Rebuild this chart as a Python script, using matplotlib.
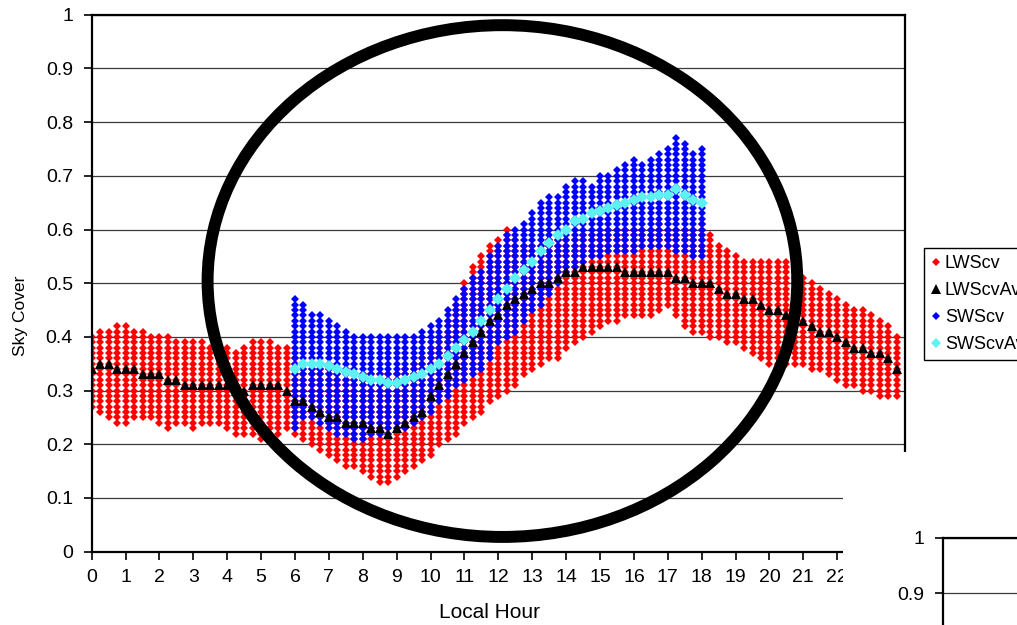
import numpy as np
import matplotlib.pyplot as plt
from matplotlib.patches import Ellipse, Rectangle

plt.rcParams['font.family'] = ['Liberation Sans', 'DejaVu Sans']

# quarter-hour local times
hours = np.arange(96) / 4.0          # 0 .. 23.75
sw_hours = hours[24:73]              # 6 .. 18

# LWScv cloud: lower / upper edge at each quarter hour
lws_lo = [0.27, 0.26, 0.25, 0.24, 0.24, 0.25, 0.25, 0.25,
          0.24, 0.23, 0.24, 0.24, 0.23, 0.24, 0.24, 0.24,
          0.23, 0.22, 0.22, 0.22, 0.21, 0.22, 0.22, 0.23,
          0.22, 0.21, 0.20, 0.19, 0.18, 0.17, 0.16, 0.16,
          0.15, 0.14, 0.13, 0.13, 0.14, 0.15, 0.16, 0.17,
          0.18, 0.20, 0.21, 0.22, 0.24, 0.25, 0.26, 0.28,
          0.29, 0.30, 0.31, 0.33, 0.34, 0.35, 0.36, 0.36,
          0.38, 0.39, 0.40, 0.41, 0.42, 0.43, 0.43, 0.44,
          0.44, 0.44, 0.44, 0.45, 0.46, 0.44, 0.42, 0.41,
          0.41, 0.40, 0.40, 0.39, 0.39, 0.38, 0.37, 0.36,
          0.35, 0.35, 0.35, 0.35, 0.35, 0.34, 0.34, 0.33,
          0.32, 0.31, 0.31, 0.30, 0.30, 0.29, 0.29, 0.29]
lws_hi = [0.40, 0.41, 0.41, 0.42, 0.42, 0.41, 0.41, 0.40,
          0.40, 0.40, 0.39, 0.39, 0.39, 0.39, 0.38, 0.38,
          0.38, 0.37, 0.38, 0.39, 0.39, 0.39, 0.38, 0.38,
          0.36, 0.35, 0.35, 0.35, 0.34, 0.33, 0.33, 0.33,
          0.33, 0.33, 0.33, 0.33, 0.33, 0.34, 0.35, 0.36,
          0.38, 0.40, 0.43, 0.46, 0.50, 0.53, 0.55, 0.57,
          0.58, 0.60, 0.58, 0.57, 0.57, 0.57, 0.58, 0.58,
          0.58, 0.58, 0.59, 0.59, 0.59, 0.60, 0.60, 0.60,
          0.60, 0.60, 0.60, 0.61, 0.60, 0.60, 0.60, 0.60,
          0.61, 0.59, 0.57, 0.56, 0.55, 0.54, 0.54, 0.54,
          0.54, 0.54, 0.54, 0.53, 0.51, 0.50, 0.49, 0.48,
          0.47, 0.46, 0.45, 0.45, 0.44, 0.43, 0.42, 0.40]

# LWScvAv
lws_av = [0.34, 0.35, 0.35, 0.34, 0.34, 0.34, 0.33, 0.33,
          0.33, 0.32, 0.32, 0.31, 0.31, 0.31, 0.31, 0.31,
          0.31, 0.30, 0.30, 0.31, 0.31, 0.31, 0.31, 0.30,
          0.28, 0.28, 0.27, 0.26, 0.25, 0.25, 0.24, 0.24,
          0.24, 0.23, 0.23, 0.22, 0.23, 0.24, 0.25, 0.26,
          0.29, 0.31, 0.33, 0.35, 0.37, 0.39, 0.41, 0.43,
          0.44, 0.46, 0.47, 0.48, 0.49, 0.50, 0.50, 0.51,
          0.52, 0.52, 0.53, 0.53, 0.53, 0.53, 0.53, 0.52,
          0.52, 0.52, 0.52, 0.52, 0.52, 0.51, 0.51, 0.50,
          0.50, 0.50, 0.49, 0.48, 0.48, 0.47, 0.47, 0.46,
          0.45, 0.45, 0.44, 0.43, 0.43, 0.42, 0.41, 0.41,
          0.40, 0.39, 0.38, 0.38, 0.37, 0.37, 0.36, 0.34]

# SWScv cloud (6h - 18h)
sws_lo = [0.23, 0.25, 0.25, 0.24, 0.23, 0.22, 0.22, 0.21,
          0.21, 0.22, 0.22, 0.22, 0.23, 0.23, 0.24, 0.25,
          0.26, 0.28, 0.29, 0.31, 0.32, 0.33, 0.34, 0.36,
          0.39, 0.40, 0.41, 0.43, 0.45, 0.46, 0.48, 0.50,
          0.52, 0.53, 0.54, 0.55, 0.55, 0.56, 0.56, 0.56,
          0.56, 0.57, 0.57, 0.57, 0.57, 0.56, 0.56, 0.55,
          0.55]
sws_hi = [0.47, 0.46, 0.44, 0.44, 0.43, 0.42, 0.41, 0.40,
          0.40, 0.40, 0.40, 0.40, 0.40, 0.40, 0.40, 0.41,
          0.42, 0.43, 0.45, 0.47, 0.49, 0.51, 0.52, 0.55,
          0.57, 0.59, 0.60, 0.61, 0.63, 0.65, 0.66, 0.66,
          0.68, 0.69, 0.69, 0.68, 0.70, 0.70, 0.71, 0.72,
          0.73, 0.72, 0.73, 0.74, 0.75, 0.77, 0.76, 0.74,
          0.75]

# SWScvAv
sws_av = [0.34, 0.35, 0.35, 0.35, 0.345, 0.34, 0.335, 0.33,
          0.325, 0.32, 0.32, 0.315, 0.315, 0.32, 0.325, 0.33,
          0.34, 0.35, 0.365, 0.38, 0.395, 0.41, 0.43, 0.45,
          0.47, 0.49, 0.51, 0.525, 0.54, 0.56, 0.575, 0.59,
          0.60, 0.615, 0.62, 0.63, 0.635, 0.64, 0.645, 0.65,
          0.655, 0.66, 0.66, 0.665, 0.665, 0.675, 0.665, 0.655,
          0.65]


def cloud(xs, lo, hi):
    px, py = [], []
    for x, a, b in zip(xs, lo, hi):
        vals = np.arange(round(a * 100), round(b * 100) + 1) / 100.0
        px += [x] * len(vals)
        py += list(vals)
    return px, py


W, H = 1017, 625
fig = plt.figure(figsize=(W / 100, H / 100), dpi=100)
ax = fig.add_axes([91.7 / W, 1 - 551.7 / H, (905 - 91.7) / W, (551.7 - 14.7) / H])

lx, ly = cloud(hours, lws_lo, lws_hi)
sx, sy = cloud(sw_hours, sws_lo, sws_hi)
l1, = ax.plot(lx, ly, 'D', color='#ff0000', ms=4.0, mew=0, ls='none', label='LWScv', zorder=2)
l3, = ax.plot(sx, sy, 'D', color='#0000ff', ms=4.0, mew=0, ls='none', label='SWScv', zorder=3)
l2, = ax.plot(hours, lws_av, '^', color='black', ms=7.5, mew=0, ls='none', label='LWScvAv', zorder=4)
l4, = ax.plot(sw_hours, sws_av, 'D', color='#5cf2f2', ms=6, mew=0, ls='none', label='SWScvAv', zorder=5)

ax.set_xlim(0, 24)
ax.set_ylim(0, 1)
ax.set_xticks(range(0, 25))
ax.set_xticklabels([str(h) for h in range(0, 25)])
ax.set_yticks(np.arange(0, 11) / 10)
ax.set_yticklabels(['0'] + ['0.%d' % i for i in range(1, 10)] + ['1'])
ax.tick_params(axis='both', labelsize=14, direction='out', length=5.5, width=1.2, color='black')
ax.tick_params(axis='y', pad=8)
ax.tick_params(axis='x', pad=7)
ax.grid(axis='y', color='#3a3a3a', lw=0.9)
ax.set_axisbelow(True)
for s in ax.spines.values():
    s.set_color('black')
    s.set_linewidth(1.6)

ax.set_xlabel('Local Hour', fontsize=15)
ax.xaxis.set_label_coords((490 - 91.7) / (905 - 91.7), -(603 - 551.7) / 537)
ax.set_ylabel('Sky Cover', fontsize=12.5)
ax.yaxis.set_label_coords(-(91.7 - 28) / (905 - 91.7), (551.7 - 316) / 537)

# highlight ellipse
ax.add_patch(Ellipse((12.12, 0.504), 17.40, 0.953, fill=False, ec='black',
                     lw=8.6, clip_on=False, zorder=10))

fig.legend(handles=[l1, l2, l3, l4], loc='upper left',
           bbox_to_anchor=(924 / W, 1 - 248 / H), borderaxespad=0,
           fontsize=13, frameon=True, fancybox=False, edgecolor='black',
           framealpha=1, handlelength=0.55, handletextpad=0.2,
           borderpad=0.4, labelspacing=0.55, markerscale=0.9)
fig.legends[0].get_frame().set_linewidth(1.0)

# overlapping screenshot corner of another chart
fig.add_artist(Rectangle((843 / W, 0), 1 - 843 / W, (H - 452) / H,
                         transform=fig.transFigure, facecolor='white',
                         edgecolor='none', zorder=5))
ax2 = fig.add_axes([943 / W, 0, 0.2, (H - 538) / H])
ax2.set_zorder(6)
ax2.set_ylim(1 - 87 / 550, 1)
ax2.set_xlim(0, 1)
ax2.set_yticks([0.9, 1.0])
ax2.set_yticklabels(['0.9', '1'])
ax2.set_xticks([])
ax2.tick_params(axis='y', labelsize=14, direction='out', length=5.5, width=1.2, pad=8)
ax2.grid(axis='y', color='#3a3a3a', lw=0.9)
ax2.spines['bottom'].set_visible(False)
ax2.spines['right'].set_visible(False)
ax2.spines['left'].set_linewidth(1.6)
ax2.spines['top'].set_linewidth(1.6)

fig.savefig('out.png', dpi=100)
